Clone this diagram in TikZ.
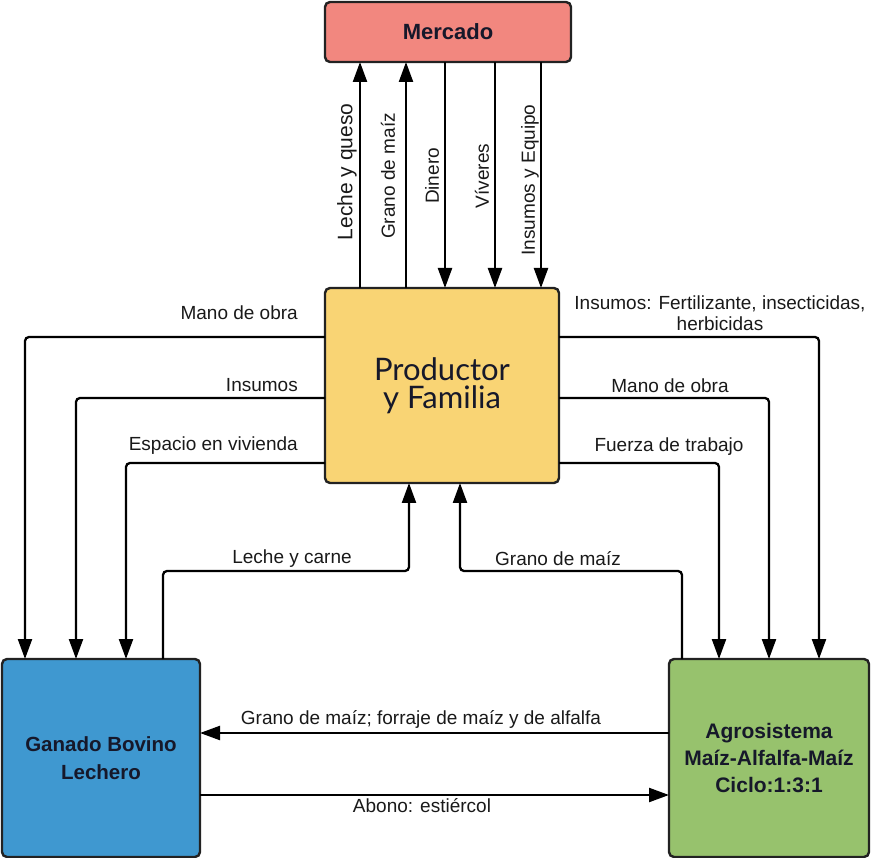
\documentclass[tikz,border=0pt]{standalone}
\usepackage{fontspec}
\setmainfont{Liberation Sans}
\newfontfamily\latofont{Lato}
\usetikzlibrary{arrows.meta}
\definecolor{mercfill}{HTML}{F2877F}
\definecolor{prodfill}{HTML}{F9D474}
\definecolor{ganfill}{HTML}{3F98D0}
\definecolor{agrofill}{HTML}{97C26D}
\definecolor{edge}{HTML}{222222}
\definecolor{boxtext}{HTML}{16182A}
\begin{document}
\begin{tikzpicture}[x=1pt,y=-1pt,
  box/.style={draw=edge, line width=2.4pt, rounded corners=5pt, outer sep=0pt, inner sep=0pt, align=center, text=boxtext},
  flow/.style={draw=black, line width=2.3pt, rounded corners=4pt, -{Triangle[length=20pt,width=14pt]}},
  lbl/.style={font=\fontsize{19}{21}\selectfont, inner sep=0pt, align=center, text=black!90},
  vlbl/.style={lbl, rotate=90}
]
\useasboundingbox (0,0) rectangle (871,858);

% boxes
\node[box, fill=mercfill, minimum width=246pt, minimum height=60pt, font=\fontsize{22}{24}\selectfont\bfseries] (merc) at (448,32) {Mercado};
\node[box, fill=prodfill, minimum width=234pt, minimum height=195pt, font=\latofont\fontsize{31}{28}\selectfont] (prod) at (442,385.5) {Productor\\y Familia};
\node[box, fill=ganfill, minimum width=198pt, minimum height=198pt, font=\fontsize{20.5}{28}\selectfont\bfseries] (gan) at (101,758) {Ganado Bovino\\Lechero};
\node[box, fill=agrofill, minimum width=200pt, minimum height=198pt, font=\fontsize{21}{27}\selectfont\bfseries] (agro) at (769,758) {Agrosistema\\Maíz-Alfalfa-Maíz\\Ciclo:1:3:1};

% helper coordinates
\coordinate (v1) at (360,0);
\coordinate (v2) at (406,0);
\coordinate (v3) at (445,0);
\coordinate (v4) at (495,0);
\coordinate (v5) at (541,0);
\coordinate (cl1) at (25,0);
\coordinate (cl2) at (76,0);
\coordinate (cl3) at (126,0);
\coordinate (cr1) at (819,0);
\coordinate (cr2) at (769,0);
\coordinate (cr3) at (719,0);
\coordinate (h1) at (0,337);
\coordinate (h2) at (0,398);
\coordinate (h3) at (0,463);
\coordinate (hm) at (0,571);
\coordinate (hb1) at (0,733);
\coordinate (hb2) at (0,795);
\coordinate (xl) at (163,0);
\coordinate (xlp) at (409,0);
\coordinate (xr) at (682,0);
\coordinate (xrp) at (460,0);

% producer <-> market
\draw[flow] (prod.north -| v1) -- (merc.south -| v1);
\draw[flow] (prod.north -| v2) -- (merc.south -| v2);
\draw[flow] (merc.south -| v3) -- (prod.north -| v3);
\draw[flow] (merc.south -| v4) -- (prod.north -| v4);
\draw[flow] (merc.south -| v5) -- (prod.north -| v5);

\node[vlbl, font=\fontsize{21}{23}\selectfont] (l1) at (347,172) {Leche y queso};
\node[vlbl] (l2) at (388,176) {Grano de maíz};
\node[vlbl] (l3) at (432,176) {Dinero};
\node[vlbl] (l4) at (482,176) {Víveres};
\node[vlbl] (l5) at (530,180) {Insumos y Equipo};

% producer -> cattle
\draw[flow] (prod.west |- h1) -- (cl1 |- h1) -- (gan.north -| cl1);
\draw[flow] (prod.west |- h2) -- (cl2 |- h2) -- (gan.north -| cl2);
\draw[flow] (prod.west |- h3) -- (cl3 |- h3) -- (gan.north -| cl3);
\node[lbl, anchor=east] (ll1) at (298,313) {Mano de obra};
\node[lbl, anchor=east] (ll2) at (298,385) {Insumos};
\node[lbl, anchor=east] (ll3) at (298,446) {Espacio en vivienda};

% producer -> agrosystem
\draw[flow] (prod.east |- h1) -- (cr1 |- h1) -- (agro.north -| cr1);
\draw[flow] (prod.east |- h2) -- (cr2 |- h2) -- (agro.north -| cr2);
\draw[flow] (prod.east |- h3) -- (cr3 |- h3) -- (agro.north -| cr3);
\node[lbl] (rl1) at (720,313) {Insumos: Fertilizante, insecticidas,\\herbicidas};
\node[lbl] (rl2) at (670,386) {Mano de obra};
\node[lbl] (rl3) at (669,447) {Fuerza de trabajo};

% back to producer
\draw[flow] (gan.north -| xl) -- (xl |- hm) -- (xlp |- hm) -- (prod.south -| xlp);
\draw[flow] (agro.north -| xr) -- (xr |- hm) -- (xrp |- hm) -- (prod.south -| xrp);
\node[lbl] (ml1) at (292,559) {Leche y carne};
\node[lbl] (ml2) at (558,559) {Grano de maíz};

% bottom exchanges
\draw[flow] (agro.west |- hb1) -- (gan.east |- hb1);
\draw[flow] (gan.east |- hb2) -- (agro.west |- hb2);
\node[lbl] (bl1) at (421,719) {Grano de maíz; forraje de maíz y de alfalfa};
\node[lbl] (bl2) at (422,806) {Abono: estiércol};
\end{tikzpicture}
\end{document}
